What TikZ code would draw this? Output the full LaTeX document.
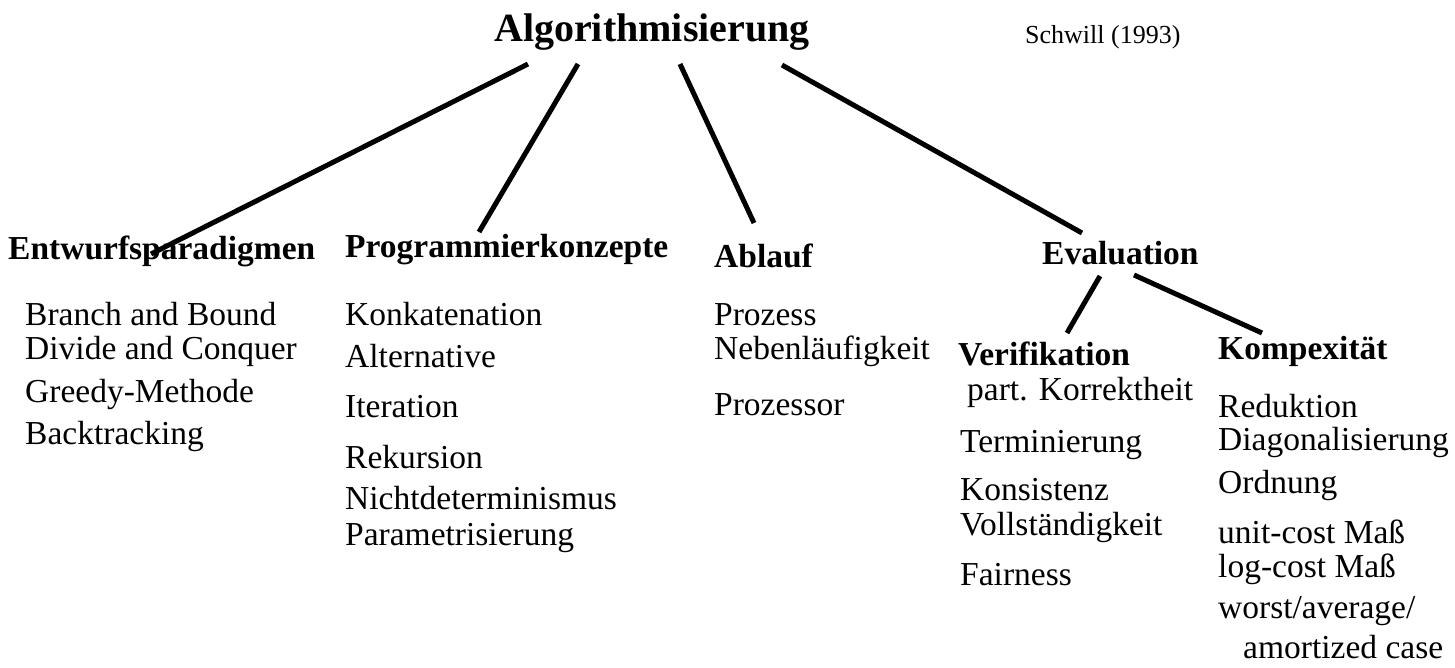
\documentclass[tikz,border=0pt]{standalone}
\usepackage{fontspec}
\setmainfont{Liberation Serif}
\usetikzlibrary{positioning, calc}

\tikzset{
  head/.style={font=\bfseries\fontsize{33.5}{34}\selectfont, inner sep=0pt, anchor=base west},
  item/.style={font=\fontsize{33.5}{34}\selectfont, inner sep=0pt, anchor=base west, align=left},
  branch/.style={line width=5pt}
}

\begin{document}
\begin{tikzpicture}[x=1pt, y=-1pt]
            \useasboundingbox (0,0) rectangle (1455,668);
            \node[inner sep=0pt, anchor=base, font=\bfseries\fontsize{40}{40}\selectfont] (algo) at (652,42) {Algorithmisierung};
            \node[inner sep=0pt, anchor=base west, font=\fontsize{26}{26}\selectfont] (quelle) at (1025,44) {Schwill (1993)};

            \node[head] (entwurf) at (8,259) {Entwurfsparadigmen};
            \node[head] (prog) at (345,258) {Programmierkonzepte};
            \node[head] (ablauf) at (714,267) {Ablauf};
            \node[head] (eval) at (1042,265) {Evaluation};
            \node[head] (verif) at (958,365) {Verifikation};
            \node[head] (komp) at (1218,359) {Kompexität};

            \node[item] (entwurfitems) at (25,444) {Branch and Bound\\ Divide and Conquer\\[9pt] Greedy-Methode\\[8pt] Backtracking};
            \node[item] (progitems) at (345,545) {Konkatenation\\[8pt] Alternative\\[16pt] Iteration\\[17pt] Rekursion\\[7pt] Nichtdeterminismus\\[2pt] Parametrisierung};
            \node[item] (ablaufitems) at (714,415) {Prozess\\ Nebenläufigkeit\\[22pt] Prozessor};
            \node[item] (verifitems) at (960,585) {\hspace*{7pt}part. Korrektheit\\[18pt] Terminierung\\[14pt] Konsistenz\\[1pt] Vollständigkeit\\[16pt] Fairness};
            \node[item] (kompitems) at (1218,658) {Reduktion\\[-1pt] Diagonalisierung\\[9pt] Ordnung\\[16pt] unit-cost Maß\\ log-cost Maß\\[7pt] worst/average/\\[6pt] \hspace*{25pt}amortized case};

            \draw[branch] ([xshift=-124pt, yshift=-13pt]algo.south) -- ([xshift=143pt, yshift=5pt]entwurf.base west);
            \draw[branch] ([xshift=-74pt, yshift=-13pt]algo.south) -- ([xshift=134pt, yshift=26pt]prog.base west);
            \draw[branch] ([xshift=28pt, yshift=-13pt]algo.south) -- ([xshift=40pt, yshift=44pt]ablauf.base west);
            \draw[branch] ([xshift=130pt, yshift=-14pt]algo.south) -- ([xshift=40pt, yshift=32pt]eval.base west);
            \draw[branch] ([xshift=58pt, yshift=-11pt]eval.base west) -- ([xshift=109pt, yshift=32pt]verif.base west);
            \draw[branch] ([xshift=92pt, yshift=-10pt]eval.base west) -- ([xshift=44pt, yshift=26pt]komp.base west);
          \end{tikzpicture}
\end{document}
